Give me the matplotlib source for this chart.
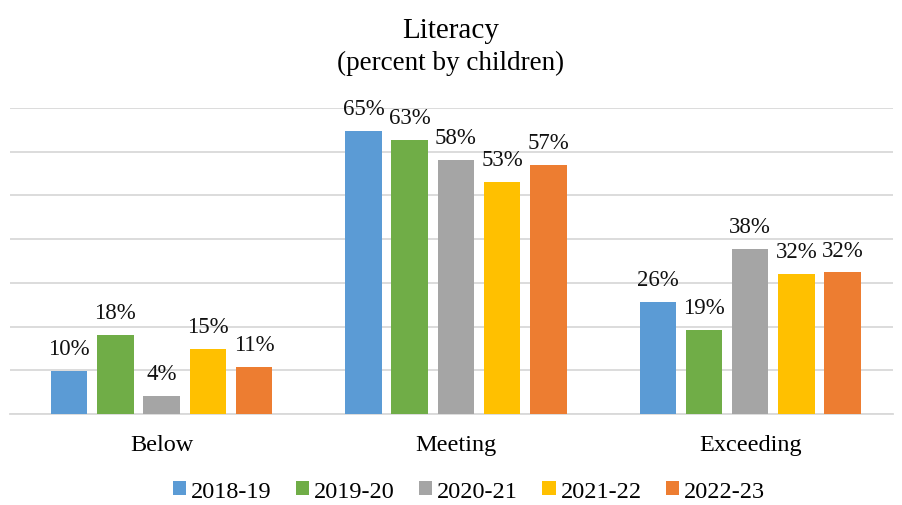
import numpy as np
import matplotlib.pyplot as plt

# data (percent)
categories = ['Below', 'Meeting', 'Exceeding']
years = ['2018-19', '2019-20', '2020-21', '2021-22', '2022-23']
v_2018_19 = [9.9, 64.8, 25.6]
v_2019_20 = [18.1, 62.7, 19.2]
v_2020_21 = [4.2, 58.1, 37.8]
v_2021_22 = [14.9, 53.1, 32.0]
v_2022_23 = [10.8, 56.9, 32.4]
colors = ['#5B9BD5', '#70AD47', '#A5A5A5', '#FFC000', '#ED7D31']

series = [v_2018_19, v_2019_20, v_2020_21, v_2021_22, v_2022_23]

plt.rcParams['font.family'] = ['Liberation Serif', 'DejaVu Serif']

fig = plt.figure(figsize=(9.02, 5.06), dpi=100)
ax = fig.add_axes([10 / 902, 91 / 506, 883 / 902, 306 / 506])

x = np.arange(len(categories))
width = 0.124
step = 0.157
for i, (vals, name, c) in enumerate(zip(series, years, colors)):
    pos = x + (i - 2) * step
    bars = ax.bar(pos, vals, width, color=c, label=name, zorder=3)
    for b, v in zip(bars, vals):
        ax.text(b.get_x() + b.get_width() / 2, v + 2.7, '%d%%' % round(v),
                ha='center', va='bottom', fontsize=16.5, color='#111111')

ax.set_xlim(-0.515, 2.485)
ax.set_ylim(0, 70)
ax.set_yticks(np.arange(0, 71, 10))
ax.yaxis.grid(True, color='#D9D9D9', linewidth=1.3, zorder=0)
ax.tick_params(axis='y', left=False, labelleft=False)
ax.tick_params(axis='x', bottom=False, labelsize=17.5, pad=11)
ax.set_xticks(x)
ax.set_xticklabels(categories)
for s in ['top', 'right', 'left']:
    ax.spines[s].set_visible(False)
ax.spines['bottom'].set_color('#D9D9D9')
ax.spines['bottom'].set_linewidth(1.3)

fig.text(0.5, 1 - 31 / 506, 'Literacy', ha='center', va='center', fontsize=21)
fig.text(0.5, 1 - 63 / 506, '(percent by children)', ha='center', va='center', fontsize=19.5)

fig.legend(loc='center', bbox_to_anchor=(0.52, 1 - 492 / 506), ncol=5, frameon=False,
           fontsize=17.5, handlelength=0.55, handleheight=0.55, handletextpad=0.2,
           columnspacing=1.0)

fig.savefig('out.png', dpi=100)
